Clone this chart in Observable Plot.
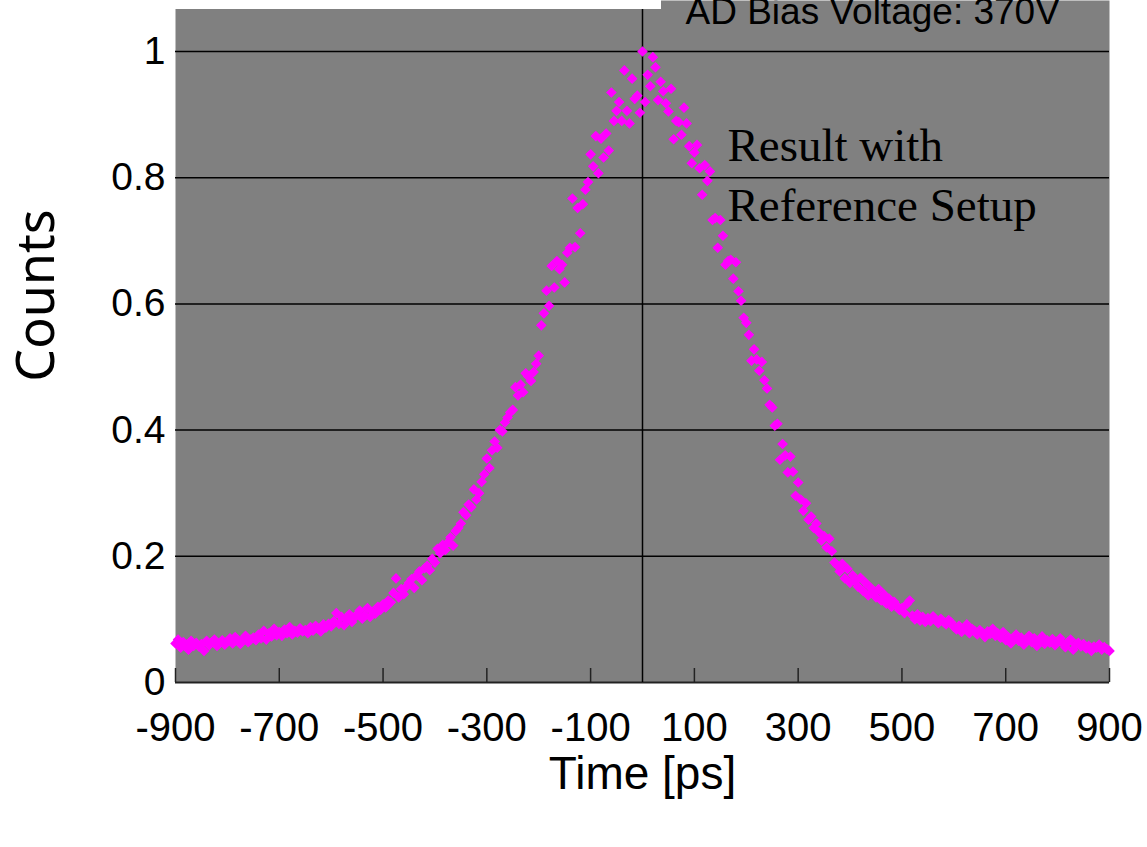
<!DOCTYPE html>
<html><head><meta charset="utf-8">
<script src="https://cdn.jsdelivr.net/npm/d3@7"></script>
<script src="https://cdn.jsdelivr.net/npm/@observablehq/plot@0.6"></script>
<style>
body{margin:0;background:#fff;}
#wrap{position:relative;width:1147px;height:847px;overflow:hidden;}
#mask{position:absolute;left:170px;top:0;width:491px;height:9px;background:#fff;}
</style></head><body><div id="wrap"></div>
<script>
// Histogram bins: first bin time and bin width (ps)
const timeStart = -900;
const timeStep = 5;
// Normalised counts, one per bin from -900 ps to 900 ps
const counts = [
  0.062,0.068,0.055,0.064,0.060,0.052,0.066,0.058,0.063,0.057,
  0.061,0.050,0.066,0.059,0.064,0.068,0.058,0.062,0.067,0.060,
  0.065,0.070,0.062,0.072,0.066,0.061,0.069,0.074,0.064,0.068,
  0.071,0.067,0.076,0.070,0.082,0.068,0.078,0.073,0.085,0.075,
  0.080,0.074,0.084,0.078,0.088,0.076,0.082,0.079,0.086,0.081,
  0.083,0.078,0.088,0.082,0.090,0.085,0.081,0.092,0.087,0.093,
  0.089,0.097,0.110,0.093,0.104,0.091,0.100,0.108,0.096,0.103,
  0.108,0.114,0.101,0.106,0.118,0.104,0.112,0.109,0.120,0.115,
  0.124,0.119,0.130,0.127,0.142,0.165,0.135,0.148,0.140,0.152,
  0.158,0.164,0.150,0.170,0.176,0.162,0.181,0.185,0.178,0.196,
  0.190,0.212,0.205,0.218,0.210,0.222,0.230,0.217,0.240,0.245,
  0.252,0.270,0.265,0.282,0.278,0.306,0.290,0.300,0.318,0.330,
  0.355,0.340,0.368,0.382,0.372,0.400,0.398,0.412,0.420,0.428,
  0.432,0.468,0.455,0.472,0.460,0.490,0.485,0.478,0.492,0.505,
  0.518,0.566,0.585,0.621,0.597,0.660,0.626,0.668,0.655,0.662,
  0.634,0.681,0.689,0.767,0.690,0.752,0.712,0.758,0.781,0.793,
  0.837,0.818,0.866,0.807,0.862,0.832,0.870,0.843,0.935,0.890,
  0.906,0.920,0.890,0.970,0.906,0.886,0.957,0.925,0.930,0.903,
  1.000,0.920,0.963,0.945,0.991,0.975,0.923,0.952,0.937,0.918,
  0.905,0.941,0.861,0.890,0.888,0.868,0.911,0.886,0.850,0.823,
  0.840,0.852,0.815,0.773,0.820,0.795,0.810,0.733,0.736,0.689,
  0.733,0.708,0.662,0.668,0.670,0.640,0.666,0.620,0.605,0.578,
  0.570,0.551,0.510,0.528,0.512,0.494,0.508,0.479,0.466,0.440,
  0.436,0.407,0.410,0.353,0.378,0.360,0.333,0.358,0.334,0.296,
  0.317,0.290,0.272,0.284,0.258,0.263,0.245,0.252,0.238,0.225,
  0.232,0.214,0.228,0.208,0.190,0.186,0.176,0.188,0.165,0.180,
  0.158,0.170,0.160,0.152,0.166,0.145,0.158,0.138,0.150,0.142,
  0.135,0.148,0.130,0.140,0.125,0.133,0.120,0.128,0.122,0.115,
  0.118,0.110,0.125,0.130,0.106,0.100,0.108,0.098,0.104,0.096,
  0.102,0.097,0.105,0.099,0.094,0.101,0.096,0.092,0.099,0.095,
  0.088,0.084,0.090,0.080,0.086,0.092,0.078,0.085,0.082,0.076,
  0.083,0.079,0.072,0.081,0.077,0.085,0.074,0.078,0.071,0.080,
  0.067,0.072,0.062,0.069,0.076,0.066,0.071,0.060,0.068,0.074,
  0.064,0.070,0.058,0.066,0.073,0.061,0.067,0.063,0.069,0.059,
  0.065,0.070,0.062,0.056,0.064,0.068,0.052,0.060,0.063,0.057,
  0.061,0.054,0.058,0.050,0.057,0.055,0.060,0.052,0.056,0.053,
  0.050
];
const xTicks = [-900,-700,-500,-300,-100,100,300,500,700,900];
const yTicks = [0,0.2,0.4,0.6,0.8,1];
const gridValues = [0.2,0.4,0.6,0.8,1];
const xLabel = "Time [ps]";
const yLabel = "Counts";
const topNote = "AD Bias Voltage: 370V";
const curveNote = "Result with\nReference Setup";

const data = counts.map((c, i) => ({time: timeStart + i * timeStep, count: c}));

const chart = Plot.plot({
  width: 1147,
  height: 847,
  marginLeft: 175,
  marginRight: 38,
  marginTop: 0,
  marginBottom: 165,
  style: {fontFamily: "'Liberation Sans', Arial, sans-serif", background: "white", color: "black"},
  x: {domain: [-900, 900]},
  y: {domain: [0, 682/631]},
  marks: [
    Plot.frame({fill: "#808080", stroke: null}),
    Plot.ruleY(gridValues, {stroke: "black", strokeWidth: 1.5}),
    Plot.ruleY([0], {stroke: "#222", strokeWidth: 2}),
    Plot.ruleX(xTicks, {stroke: "#222", strokeWidth: 1.5, insetTop: 668}),
    Plot.ruleX([0], {stroke: "black", strokeWidth: 1.5}),
    Plot.axisX(xTicks, {tickSize: 0, tickPadding: 30, fontSize: 40, tickFormat: d => String(d), label: null}),
    Plot.axisY(yTicks, {tickSize: 0, tickPadding: 10, fontSize: 39, tickFormat: d => String(d), label: null}),
    Plot.dot(data, {x: "time", y: "count", symbol: "diamond2", r: 4.8, fill: "#ff00ff", stroke: null}),
    Plot.text([topNote], {frameAnchor: "top-left", dx: 510, dy: -2.3, textAnchor: "start", lineAnchor: "top", fontSize: 37, fill: "black"}),
    Plot.text([curveNote], {frameAnchor: "top-left", dx: 552, dy: 118, textAnchor: "start", lineAnchor: "top", fontSize: 47, lineHeight: 1.28, fill: "black", fontFamily: "'Liberation Serif', 'Times New Roman', serif"}),
    Plot.text([yLabel], {frameAnchor: "left", dx: -138, dy: -46, rotate: -90, textAnchor: "middle", lineAnchor: "middle", fontSize: 52, fill: "black", fontFamily: "'Noto Sans', 'Open Sans', sans-serif"}),
    Plot.text([xLabel], {frameAnchor: "bottom", dy: 74, textAnchor: "middle", lineAnchor: "top", fontSize: 46, fill: "black"})
  ]
});
const wrap = document.getElementById("wrap");
wrap.appendChild(chart);
const mask = document.createElement("div");
mask.id = "mask";
wrap.appendChild(mask);
</script>
</body></html>
